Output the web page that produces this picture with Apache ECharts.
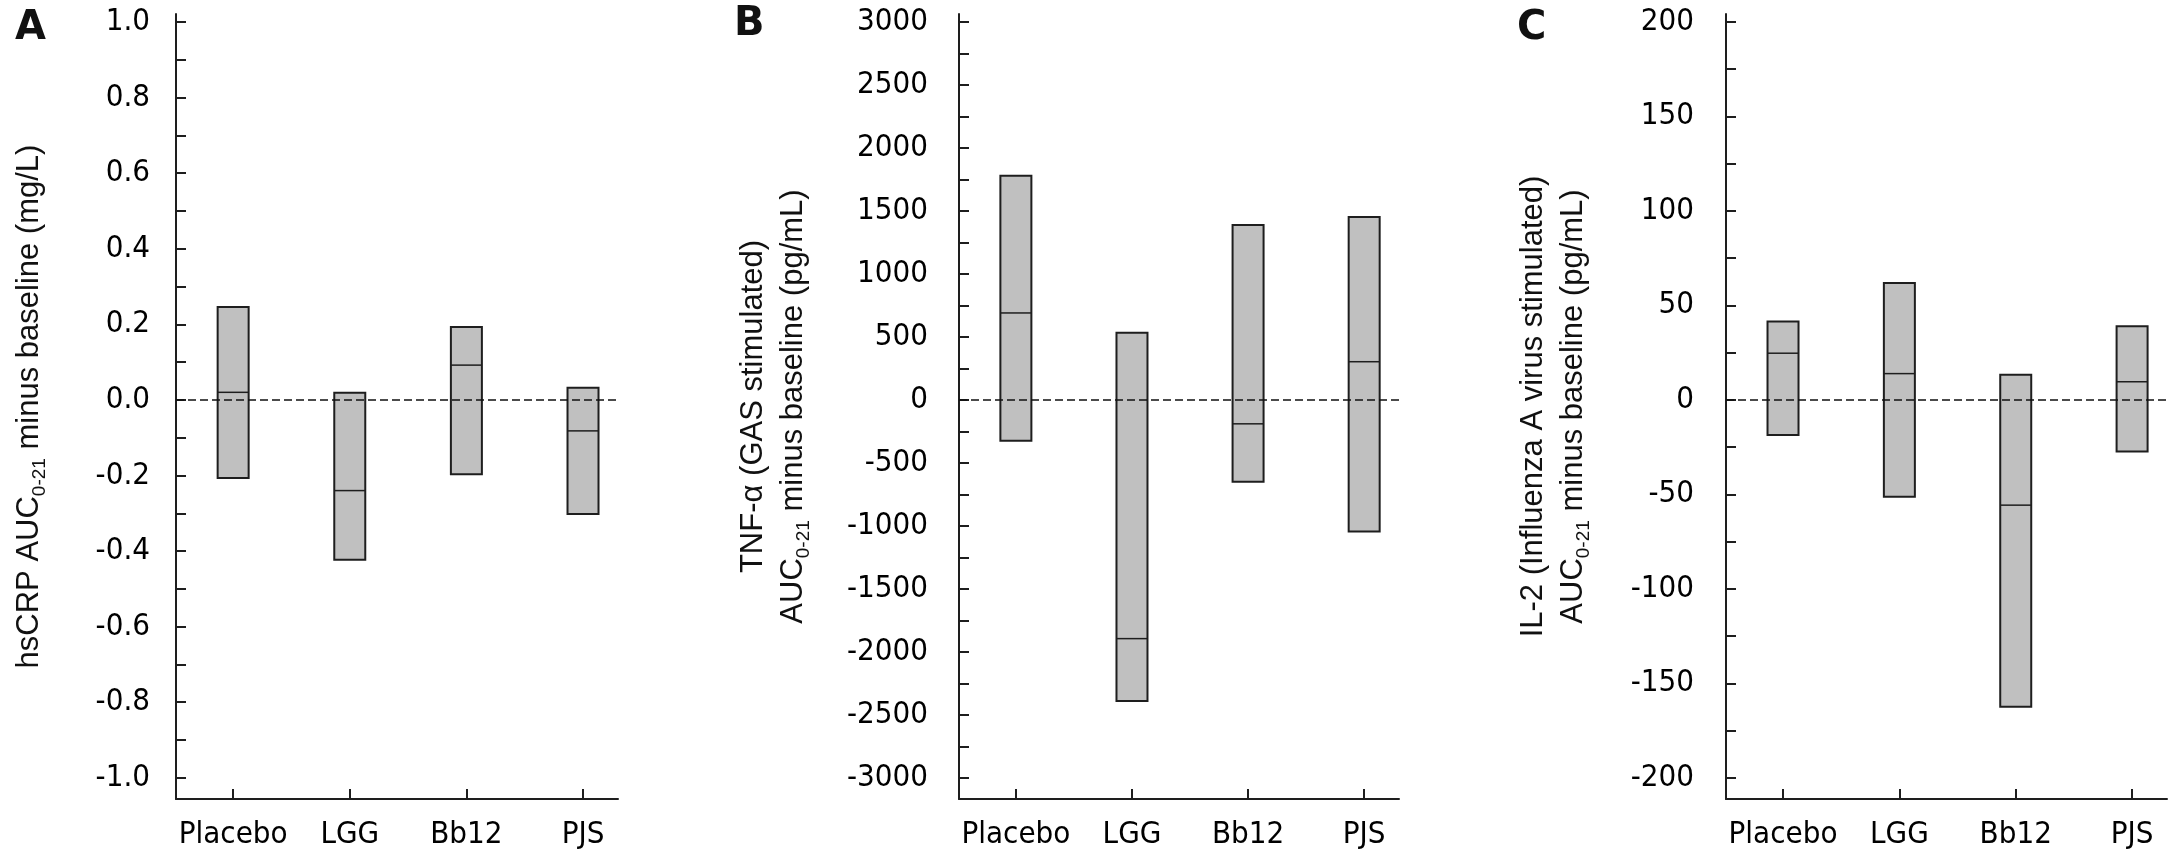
<!DOCTYPE html>
<html>
  <head>
    <meta charset="utf-8" />
    <title>AUC minus baseline</title>
    <style type="text/css">
      html, body { margin: 0; padding: 0; background: #fff; }
      #main { width: 2184px; height: 853px; }
    </style>
    <script type="text/javascript" src="https://cdn.jsdelivr.net/npm/echarts@6/dist/echarts.min.js"></script>
  </head>
  <body>
    <div id="main"></div>
    <script type="text/javascript">
    // groups on the x axis
    var groups = ['Placebo', 'LGG', 'Bb12', 'PJS'];

    // A: hsCRP (mg/L)  -- box bottom, line inside box, box top
    var crpLow = [-0.207, -0.423, -0.197, -0.302];
    var crpMid = [0.020, -0.240, 0.092, -0.082];
    var crpHigh = [0.246, 0.019, 0.193, 0.032];
    var crpTicks = [-1.0, -0.8, -0.6, -0.4, -0.2, 0.0, 0.2, 0.4, 0.6, 0.8, 1.0];

    // B: TNF-alpha (pg/mL)
    var tnfLow = [-325, -2390, -650, -1045];
    var tnfMid = [690, -1895, -190, 303];
    var tnfHigh = [1780, 532, 1389, 1451];
    var tnfTicks = [-3000, -2500, -2000, -1500, -1000, -500, 0, 500, 1000, 1500, 2000, 2500, 3000];

    // C: IL-2 (pg/mL)
    var il2Low = [-18.6, -51.3, -162.4, -27.3];
    var il2Mid = [24.7, 13.9, -55.7, 9.6];
    var il2High = [41.5, 61.8, 13.3, 38.9];
    var il2Ticks = [-200, -150, -100, -50, 0, 50, 100, 150, 200];

    var tickFont = "'DejaVu Sans Condensed', 'DejaVu Sans', sans-serif";
    var titleFont = "'Liberation Sans', Arial, sans-serif";

    var dom = document.getElementById('main');
    var myChart = echarts.init(dom, null, { renderer: 'canvas' });

    // minor ticks half way between labelled ticks
    function withMinor(ticks) {
      var out = [];
      for (var i = 0; i < ticks.length; i++) {
        out.push(ticks[i]);
        if (i < ticks.length - 1) out.push((ticks[i] + ticks[i + 1]) / 2);
      }
      return out;
    }

    function boxData(low, mid, high) {
      return groups.map(function (g, i) {
        return [i + 1, low[i], mid[i], high[i]];
      });
    }

    function renderBox(params, api) {
      var x = api.value(0);
      var lo = api.coord([x, api.value(1)]);
      var md = api.coord([x, api.value(2)]);
      var hi = api.coord([x, api.value(3)]);
      var w = 31;
      return {
        type: 'group',
        children: [
          {
            type: 'rect',
            shape: { x: lo[0] - w / 2, y: hi[1], width: w, height: lo[1] - hi[1] },
            style: { fill: '#c0c0c0', stroke: '#1e1e1e', lineWidth: 2 }
          },
          {
            type: 'line',
            shape: { x1: md[0] - w / 2, y1: md[1], x2: md[0] + w / 2, y2: md[1] },
            style: { stroke: '#1e1e1e', lineWidth: 1.5 }
          }
        ]
      };
    }

    var grids = [
      { left: 176, top: 14, width: 442, height: 785 },
      { left: 959, top: 14, width: 440, height: 785 },
      { left: 1726, top: 14, width: 441, height: 785 }
    ];

    function xAxisFor(idx) {
      return {
        type: 'value',
        gridIndex: idx,
        min: 0.51,
        max: 4.3,
        splitLine: { show: false },
        axisLine: { show: true, onZero: false, lineStyle: { color: '#1e1e1e', width: 2 } },
        axisTick: { show: true, inside: true, length: 10, customValues: [1, 2, 3, 4], lineStyle: { color: '#1e1e1e', width: 2 } },
        axisLabel: {
          customValues: [1, 2, 3, 4],
          margin: 20,
          color: '#000',
          fontSize: 31,
          fontFamily: tickFont,
          formatter: function (v) { return groups[Math.round(v) - 1] || ''; }
        }
      };
    }

    function yAxisFor(idx, ticks, k, digits, name, gap, margin) {
      return {
        type: 'value',
        gridIndex: idx,
        min: -1.056 * k,
        max: 1.021 * k,
        name: name,
        nameLocation: 'middle',
        nameGap: gap,
        nameTextStyle: {
          fontSize: 31,
          fontFamily: titleFont,
          color: '#111',
          lineHeight: 40,
          rich: {
            sub: { fontSize: 19, fontFamily: titleFont, color: '#111', verticalAlign: 'bottom', lineHeight: 38 }
          }
        },
        splitLine: { show: false },
        axisLine: { show: true, onZero: false, lineStyle: { color: '#1e1e1e', width: 2 } },
        axisTick: { show: true, inside: true, length: 10, customValues: withMinor(ticks), lineStyle: { color: '#1e1e1e', width: 2 } },
        axisLabel: {
          customValues: ticks,
          margin: margin,
          color: '#000',
          fontSize: 31,
          fontFamily: tickFont,
          formatter: function (v) { return v.toFixed(digits); }
        }
      };
    }

    function boxSeries(idx, low, mid, high) {
      return {
        type: 'custom',
        xAxisIndex: idx,
        yAxisIndex: idx,
        renderItem: renderBox,
        encode: { x: 0, y: [1, 2, 3] },
        data: boxData(low, mid, high),
        silent: true,
        markLine: {
          silent: true,
          symbol: 'none',
          label: { show: false },
          lineStyle: { color: '#111', type: [8, 4], width: 1.6, opacity: 1 },
          data: [{ yAxis: 0 }]
        }
      };
    }

    var letterStyle = { fontSize: 40, fontWeight: 'bold', fontFamily: "'DejaVu Sans', sans-serif", color: '#111' };

    var option = {
      animation: false,
      backgroundColor: '#fff',
      title: [
        { text: 'A', left: 15, top: 9, padding: 0, textStyle: letterStyle },
        { text: 'B', left: 734, top: 5, padding: 0, textStyle: letterStyle },
        { text: 'C', left: 1517, top: 9, padding: 0, textStyle: letterStyle }
      ],
      grid: grids,
      xAxis: [xAxisFor(0), xAxisFor(1), xAxisFor(2)],
      yAxis: [
        yAxisFor(0, crpTicks, 1, 1, 'hsCRP AUC{sub|0-21} minus baseline (mg/L)', 127, 26),
        yAxisFor(1, tnfTicks, 3000, 0, 'TNF-\u03b1 (GAS stimulated)\nAUC{sub|0-21} minus baseline (pg/mL)', 146, 31),
        yAxisFor(2, il2Ticks, 200, 0, 'IL-2 (Influenza A virus stimulated)\nAUC{sub|0-21} minus baseline (pg/mL)', 133, 32)
      ],
      series: [
        boxSeries(0, crpLow, crpMid, crpHigh),
        boxSeries(1, tnfLow, tnfMid, tnfHigh),
        boxSeries(2, il2Low, il2Mid, il2High)
      ]
    };

    if (option && typeof option === 'object') {
      myChart.setOption(option);
    }
    </script>
  </body>
</html>
